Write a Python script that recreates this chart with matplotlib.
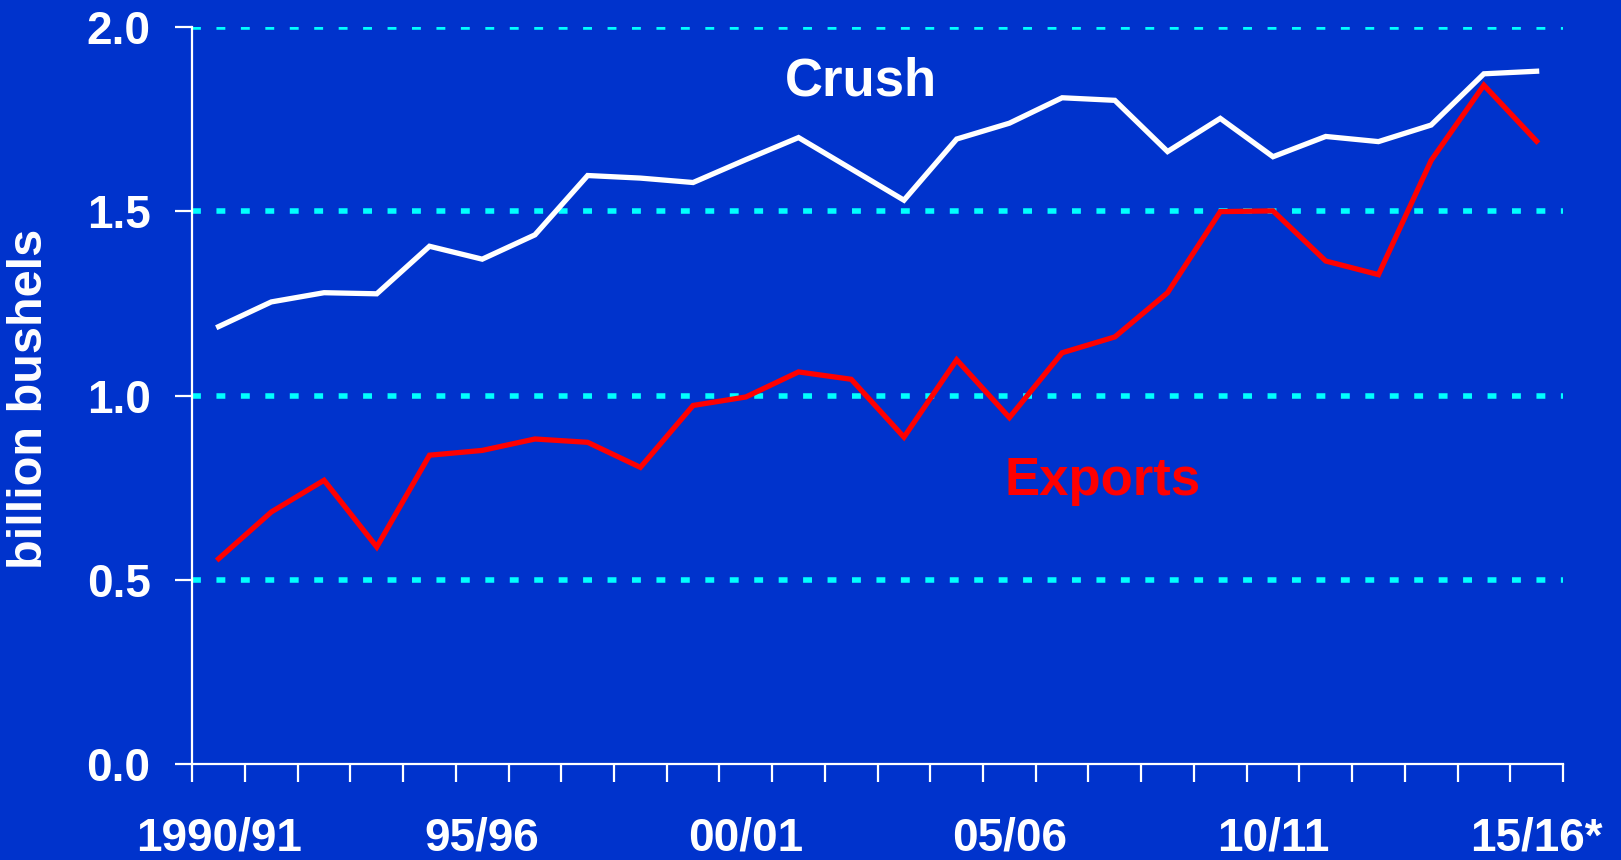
import numpy as np
import matplotlib
matplotlib.use('Agg')
import matplotlib.pyplot as plt

# marketing years 1990/91 .. 2015/16, billion bushels
years = ['1990/91', '91/92', '92/93', '93/94', '94/95', '95/96', '96/97', '97/98', '98/99', '99/00',
         '00/01', '01/02', '02/03', '03/04', '04/05', '05/06', '06/07', '07/08', '08/09', '09/10',
         '10/11', '11/12', '12/13', '13/14', '14/15', '15/16*']
crush = [1.187, 1.254, 1.279, 1.276, 1.405, 1.370, 1.436, 1.597, 1.590, 1.578,
         1.640, 1.700, 1.615, 1.530, 1.696, 1.739, 1.808, 1.801, 1.662, 1.752,
         1.648, 1.703, 1.689, 1.734, 1.873, 1.880]
exports = [0.557, 0.684, 0.770, 0.589, 0.838, 0.851, 0.882, 0.873, 0.805, 0.973,
           0.996, 1.064, 1.044, 0.887, 1.097, 0.940, 1.116, 1.159, 1.279, 1.499,
           1.501, 1.365, 1.328, 1.638, 1.842, 1.690]
label_years = ['1990/91', '95/96', '00/01', '05/06', '10/11', '15/16*']
y_ticks = [0.0, 0.5, 1.0, 1.5, 2.0]

bg = '#0033CC'
plt.rcParams['font.family'] = ['Liberation Sans', 'DejaVu Sans']
plt.rcParams['font.weight'] = 'bold'

fig = plt.figure(figsize=(16.21, 8.6), dpi=100)
fig.patch.set_facecolor(bg)
ax = fig.add_axes([0.1186, 0.1116, 0.8456, 0.8570])
ax.set_facecolor(bg)

x = np.arange(len(years))

# dotted cyan grid
for yv in y_ticks[1:]:
    gl, = ax.plot([-0.5, 25.55], [yv, yv], color='#00FFFF', lw=4, zorder=1)
    gl.set_dashes([1.6, 2.8])
    gl.set_dash_capstyle('butt')

ax.plot(x, crush, color='white', lw=3.8, zorder=3, solid_joinstyle='miter')
ax.plot(x, exports, color='#FF0000', lw=3.8, zorder=3, solid_joinstyle='miter')

ax.text(12.18, 1.815, 'Crush', color='white', fontsize=38, fontweight='bold', ha='center', va='baseline')
ax.text(16.77, 0.730, 'Exports', color='#FF0000', fontsize=38, fontweight='bold', ha='center', va='baseline')

ax.set_xlim(-0.5, 25.5)
ax.set_ylim(0, 2.0)

for s in ['top', 'right']:
    ax.spines[s].set_visible(False)
for s in ['left', 'bottom']:
    ax.spines[s].set_color('white')
    ax.spines[s].set_linewidth(1.6)

ax.set_yticks(y_ticks)
ax.set_yticklabels(['%.1f' % v for v in y_ticks])
ax.tick_params(axis='y', colors='white', labelsize=33, length=12, width=1.6, pad=18, direction='out')

idx = [years.index(l) for l in label_years]
ax.set_xticks(idx)
ax.set_xticklabels(label_years)
ax.set_xticks(np.arange(-0.5, 25.6, 1), minor=True)
ax.tick_params(axis='x', which='major', colors='white', labelsize=33, length=0, pad=38)
ax.tick_params(axis='x', which='minor', colors='white', length=13, width=1.6, direction='out')

ax.set_ylabel('billion bushels', color='white', fontsize=35, fontweight='bold')
ax.yaxis.set_label_coords(-0.1026, 0.495)

for lab in ax.get_xticklabels() + ax.get_yticklabels():
    lab.set_fontweight('bold')

fig.savefig('out.png', dpi=100, facecolor=bg)
